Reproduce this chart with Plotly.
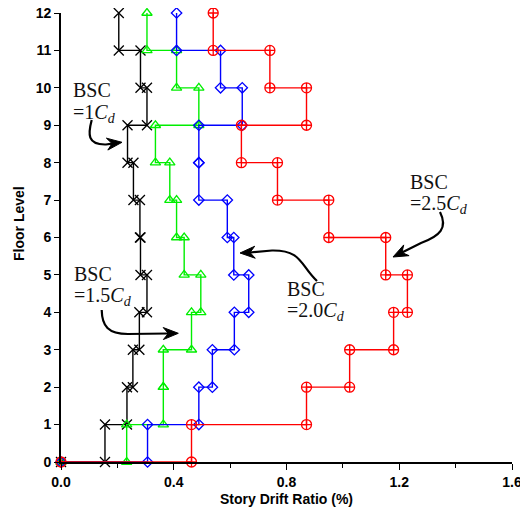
import plotly.graph_objects as go
import math

# ---------------- data ----------------
floors = list(range(0, 13))
drift_1_0 = [0.156, 0.234, 0.255, 0.278, 0.305, 0.282, 0.280, 0.257, 0.236, 0.305, 0.282, 0.205]
drift_1_5 = [0.233, 0.363, 0.363, 0.463, 0.496, 0.437, 0.410, 0.386, 0.335, 0.489, 0.410, 0.305]
drift_2_0 = [0.307, 0.489, 0.537, 0.615, 0.666, 0.613, 0.590, 0.489, 0.489, 0.643, 0.566, 0.410]
drift_2_5 = [0.463, 0.871, 1.024, 1.180, 1.229, 1.152, 0.950, 0.768, 0.640, 0.871, 0.741, 0.540]
x_ticks = [0.0, 0.4, 0.8, 1.2, 1.6]
x_tick_labels = ["0.0", "0.4", "0.8", "1.2", "1.6"]

# page body has an 8px default margin; work in window pixels
OFF = 8
W, H = 528, 508
PL, PR, PT, PB = 61, 512, 13, 462          # plot area in window pixels
ML, MT = PL - OFF, PT - OFF
MR, MB = W - (PR - OFF), H - (PB - OFF)
XR = (0, 1.6)
YR = (0, 12)


def step(drifts):
    xs, ys = [0.0], [0]
    for i, d in enumerate(drifts, start=1):
        xs += [d, d]
        ys += [i - 1, i]
    return xs, ys


def p2d(px, py):
    x = XR[0] + (px - PL) / (PR - PL) * (XR[1] - XR[0])
    y = YR[0] + (PB - py) / (PB - PT) * (YR[1] - YR[0])
    return x, y


def p2paper(px, py):
    return (px - PL) / (PR - PL), (PB - py) / (PB - PT)


series = [
    (drift_1_0, "#000000", "x-thin-open", 10, "BSC=1Cd"),
    (drift_1_5, "#00ee00", "triangle-up-open", 9, "BSC=1.5Cd"),
    (drift_2_0, "#0000ff", "diamond-open", 8, "BSC=2.0Cd"),
    (drift_2_5, "#ff0000", "circle-cross-open", 10, "BSC=2.5Cd"),
]

fig = go.Figure()
for d, col, sym, sz, name in series:
    xs, ys = step(d)
    fig.add_trace(go.Scatter(
        x=xs, y=ys, mode="lines+markers", name=name,
        line=dict(color=col, width=1.4),
        marker=dict(symbol=sym, size=sz, color=col, line=dict(color=col, width=1.3)),
        cliponaxis=False, showlegend=False,
    ))

# ---------------- curved arrows ----------------
def path_str(cmds):
    out = []
    for c in cmds:
        s = c[0]
        for (px, py) in c[1:]:
            x, y = p2d(px, py)
            s += f" {x:.5f},{y:.5f}"
        out.append(s)
    return " ".join(out)


def head(tip, frm, length=15, half=6, notch=5):
    tx, ty = tip
    fx, fy = frm
    ang = math.atan2(ty - fy, tx - fx)
    ux, uy = math.cos(ang), math.sin(ang)
    nx, ny = -uy, ux
    bx, by = tx - ux * length, ty - uy * length
    p1 = (bx + nx * half, by + ny * half)
    p2 = (tx - ux * (length - notch), ty - uy * (length - notch))
    p3 = (bx - nx * half, by - ny * half)
    return [("M", tip), ("L", p1), ("L", p2), ("L", p3), ("Z",)]


arrows = [
    ([("M", (91.7, 120)), ("C", (88, 134), (87, 145), (106, 144.5)), ("L", (112, 143.6))],
     (122, 142.3), (108, 144)),
    ([("M", (101.7, 310)), ("C", (102, 326), (108, 334), (128, 334)), ("L", (168, 333.5))],
     (178.3, 333.3), (165, 333.5)),
    ([("M", (317, 281)), ("C", (300, 265), (302, 250), (272, 250.5)), ("L", (250, 252.5))],
     (240, 253), (254, 252.3)),
    ([("M", (440, 212)), ("C", (448, 228), (440, 236), (421, 243)), ("L", (402, 252.5))],
     (393, 257), (406, 250.5)),
]

for cmds, tip, frm in arrows:
    fig.add_shape(type="path", xref="x", yref="y", path=path_str(cmds),
                  line=dict(color="#000000", width=2.2), layer="above")
    fig.add_shape(type="path", xref="x", yref="y", path=path_str(head(tip, frm)),
                  line=dict(color="#000000", width=1), fillcolor="#000000", layer="above")

# ---------------- labels ----------------
serif = "Liberation Serif, Times New Roman, serif"
labels = [
    (71, 90, "1"),
    (71.7, 273.5, "1.5"),
    (285, 288.5, "2.0"),
    (408, 181.5, "2.5"),
]
for px, py, k in labels:
    x1, y1 = p2d(px, py)
    x2, y2 = p2d(px, py + 23)
    fig.add_annotation(x=x1, y=y1, xref="x", yref="y", text="BSC", showarrow=False,
                       xanchor="left", yanchor="middle",
                       font=dict(family=serif, size=20, color="#111111"))
    fig.add_annotation(x=x2, y=y2, xref="x", yref="y",
                       text=f"={k}<i>C<sub>d</sub></i>", showarrow=False,
                       xanchor="left", yanchor="middle",
                       font=dict(family=serif, size=20, color="#111111"))

# axis titles
sans = "Liberation Sans, Arial, sans-serif"
tx, ty = p2paper((PL + PR) / 2, 499)
fig.add_annotation(x=tx, y=ty, xref="paper", yref="paper",
                   text="Story Drift Ratio (%)", showarrow=False,
                   xanchor="center", yanchor="middle",
                   font=dict(family=sans, size=14, color="#000000", weight="bold"))
fx, fy = p2paper(18.5, 223.5)
fig.add_annotation(x=fx, y=fy, xref="paper", yref="paper",
                   text="Floor Level", showarrow=False, textangle=-90,
                   xanchor="center", yanchor="middle",
                   font=dict(family=sans, size=14, color="#000000", weight="bold"))

fig.update_layout(
    width=W, height=H,
    margin=dict(l=ML, r=MR, t=MT, b=MB, pad=0, autoexpand=False),
    paper_bgcolor="white", plot_bgcolor="white",
    showlegend=False,
)
fig.update_xaxes(
    range=list(XR), showgrid=False, zeroline=False, automargin=False,
    showline=True, linecolor="black", linewidth=1.6, mirror=False,
    ticks="outside", ticklen=6, tickwidth=1.3, tickcolor="black",
    tickvals=x_ticks, ticktext=x_tick_labels, ticklabeloverflow="allow",
    tickfont=dict(family=sans, size=14, color="black", weight="bold"),
    minor=dict(ticks="outside", ticklen=4, tickwidth=1.2, tickcolor="black", dtick=0.2, tick0=0, showgrid=False),
)
fig.update_yaxes(
    range=list(YR), showgrid=False, zeroline=False, automargin=False,
    showline=True, linecolor="black", linewidth=1.6, mirror=False,
    ticks="outside", ticklen=5, tickwidth=1.3, tickcolor="black",
    tickvals=floors, ticktext=[str(f) for f in floors], ticklabeloverflow="allow",
    tickfont=dict(family=sans, size=14, color="black", weight="bold"),
)

fig.write_html("out.html")
